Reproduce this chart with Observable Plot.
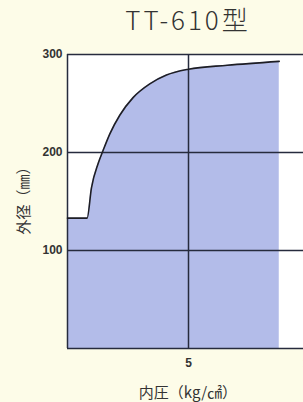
<!DOCTYPE html>
<html><head><meta charset="utf-8">
<script src="https://cdn.jsdelivr.net/npm/d3@7"></script>
<script src="https://cdn.jsdelivr.net/npm/@observablehq/plot@0.6"></script>
<style>
html,body{margin:0;padding:0;background:#fdfce8;}
body{width:303px;height:402px;overflow:hidden;position:relative;font-family:"Noto Sans CJK JP","Noto Sans",sans-serif;color:#333;}
#title{position:absolute;left:73px;top:0;width:230px;height:40px;line-height:37px;text-align:center;font-size:26px;letter-spacing:3px;color:#333;font-weight:300;}
#chart{position:absolute;left:0;top:40px;}
#ylab{position:absolute;left:22px;top:197px;transform:translate(-50%,-50%) rotate(-90deg);font-size:15px;white-space:nowrap;color:#333;}
#xlab{position:absolute;left:188px;top:391px;transform:translate(-50%,-50%);font-size:15px;white-space:nowrap;color:#333;}
</style>
</head><body>
<div id="title">TT-610型</div>
<div id="chart"></div>
<div id="ylab">外径（㎜）</div>
<div id="xlab">内圧（kg/㎠）</div>
<script>
const pressure = [0, 0.81, 0.99, 1.27, 1.47, 1.75, 2.16, 2.71, 3.40, 4.09, 5, 6.6, 8.75];
const diameter = [133, 133, 164, 189, 202, 219, 238, 256, 270, 279, 285, 289, 293];
const xTicks = [5, 10];
const yTicks = [100, 200, 300];
const data = pressure.map((p, i) => ({p, d: diameter[i]}));
const lineColor = "#262b3d";
const chart = Plot.plot({
  width: 303, height: 362,
  marginTop: 14, marginBottom: 54, marginLeft: 67, marginRight: -6,
  style: {background: "transparent", color: "#333", fontFamily: "'Liberation Sans', Arial, sans-serif"},
  x: {domain: [0, 10]},
  y: {domain: [0, 300]},
  marks: [
    Plot.frame({fill: "white", stroke: null}),
    Plot.areaY(data, {x: "p", y: "d", fill: "#b3bce9", curve: "monotone-x"}),
    Plot.ruleY(yTicks, {stroke: lineColor, strokeWidth: 1.5}),
    Plot.ruleY([0], {stroke: lineColor, strokeWidth: 1.5}),
    Plot.ruleX([0, ...xTicks], {stroke: lineColor, strokeWidth: 1.5}),
    Plot.line(data, {x: "p", y: "d", curve: "monotone-x", stroke: "#1e1e24", strokeWidth: 1.6}),
    Plot.axisY({ticks: yTicks, tickSize: 0, tickPadding: 5, label: null, fontSize: 12, fontWeight: "bold"}),
    Plot.axisX({ticks: xTicks, tickSize: 0, tickPadding: 10, label: null, fontSize: 12, fontWeight: "bold"})
  ]
});
document.getElementById("chart").appendChild(chart);
</script>
</body></html>
